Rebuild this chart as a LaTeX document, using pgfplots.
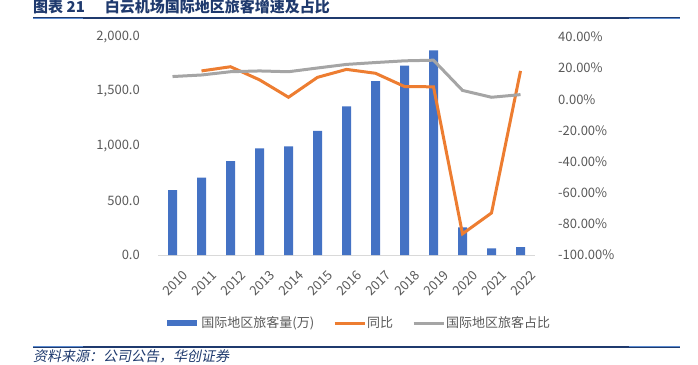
\documentclass[border=0pt]{standalone}
\usepackage{pgfplots}
\pgfplotsset{compat=1.18}
\usepackage{fontspec}
\setmainfont{Noto Sans CJK SC}
\newfontfamily\srcfont{Noto Sans CJK SC}[FakeSlant=0.2]
\definecolor{titleblue}{HTML}{1F3A6E}
\definecolor{lightblue}{HTML}{5B8BD0}
\definecolor{barblue}{HTML}{4472C4}
\definecolor{lineorange}{HTML}{ED7D31}
\definecolor{linegray}{HTML}{A5A5A5}
\definecolor{txtgray}{HTML}{595959}
\begin{document}
\begin{tikzpicture}[x=1bp,y=1bp]
\path[use as bounding box] (0,0) rectangle (698,364);
\node[anchor=base west, inner sep=0, text=titleblue, font=\fontsize{15bp}{15bp}\selectfont\bfseries] at (33,352) {图表 21\hspace{20bp}白云机场国际地区旅客增速及占比};
\draw[titleblue, line width=1.2bp] (33,346) -- (680,346);
\draw[lightblue, line width=1.6bp] (33,345.3) -- (83,345.3);
\draw[lightblue, line width=1.6bp] (629,345.3) -- (680,345.3);
\draw[titleblue, line width=1.2bp] (33,17) -- (680,17);
\draw[lightblue, line width=1.6bp] (33,17.5) -- (83,17.5);
\draw[lightblue, line width=1.6bp] (629,17.5) -- (680,17.5);
\node[anchor=base west, inner sep=0, text=titleblue, font=\fontsize{14bp}{14bp}\selectfont\srcfont] at (33,3) {资料来源：公司公告，华创证券};

\begin{axis}[
  at={(158bp,109bp)}, anchor=south west, scale only axis,
  width=377bp, height=218bp,
  xmin=-0.5, xmax=12.5, ymin=0, ymax=2000,
  axis x line*=bottom, axis y line*=left,
  y axis line style={draw=none},
  x axis line style={draw=black!15, line width=0.8bp},
  major tick length=0pt,
  tick style={draw=none},
  xtick={0,...,12},
  xticklabels={2010,2011,2012,2013,2014,2015,2016,2017,2018,2019,2020,2021,2022},
  xticklabel style={rotate=45, anchor=north east, inner sep=0pt, xshift=-3bp, yshift=-17bp, text=txtgray, font=\fontsize{13bp}{13bp}\selectfont},
  ytick={0,500,1000,1500,2000},
  yticklabels={0.0,500.0,{1,000.0},{1,500.0},{2,000.0}},
  yticklabel style={anchor=east, inner sep=0pt, xshift=-18bp, text=txtgray, font=\fontsize{13bp}{13bp}\selectfont},
  clip=false,
]
\addplot[ybar, bar width=9bp, fill=barblue, draw=none] coordinates {
(0,596) (1,709) (2,862) (3,979) (4,997) (5,1138) (6,1364) (7,1596) (8,1737) (9,1878) (10,254) (11,61) (12,73)};
\end{axis}

\begin{axis}[
  at={(158bp,109bp)}, anchor=south west, scale only axis,
  width=377bp, height=218bp,
  xmin=-0.5, xmax=12.5, ymin=-100, ymax=40,
  axis x line=none, axis y line*=right,
  y axis line style={draw=none},
  major tick length=0pt, tick style={draw=none},
  ytick={-100,-80,-60,-40,-20,0,20,40},
  yticklabels={-100.00\%,-80.00\%,-60.00\%,-40.00\%,-20.00\%,0.00\%,20.00\%,40.00\%},
  yticklabel style={anchor=west, inner sep=0pt, xshift=23bp, text=txtgray, font=\fontsize{13bp}{13bp}\selectfont},
  clip=false,
  legend columns=3,
  legend style={at={(0.53,-0.312)}, anchor=center, draw=none, fill=none,
    font=\fontsize{13bp}{13bp}\selectfont, text=txtgray,
    /tikz/every even column/.append style={column sep=18bp},
    nodes={inner sep=1bp}},
  legend image code/.code={\draw[#1] (0bp,0bp) -- (30bp,0bp);},
]
\addlegendimage{barblue, line width=6bp}
\addlegendentry{国际地区旅客量(万)}
\addplot[lineorange, line width=3bp, no marks] coordinates {
(1,18.2) (2,20.9) (3,12.5) (4,1.3) (5,14.1) (6,19.2) (7,16.7) (8,8.2) (9,8.0) (10,-86.4) (11,-73.0) (12,18.2)};
\addlegendentry{同比}
\addplot[linegray, line width=3bp, no marks] coordinates {
(0,14.6) (1,15.6) (2,17.7) (3,18.2) (4,17.7) (5,20.1) (6,22.4) (7,23.6) (8,24.7) (9,25.1) (10,5.7) (11,1.3) (12,3.0)};
\addlegendentry{国际地区旅客占比}
\end{axis}
\end{tikzpicture}
\end{document}
